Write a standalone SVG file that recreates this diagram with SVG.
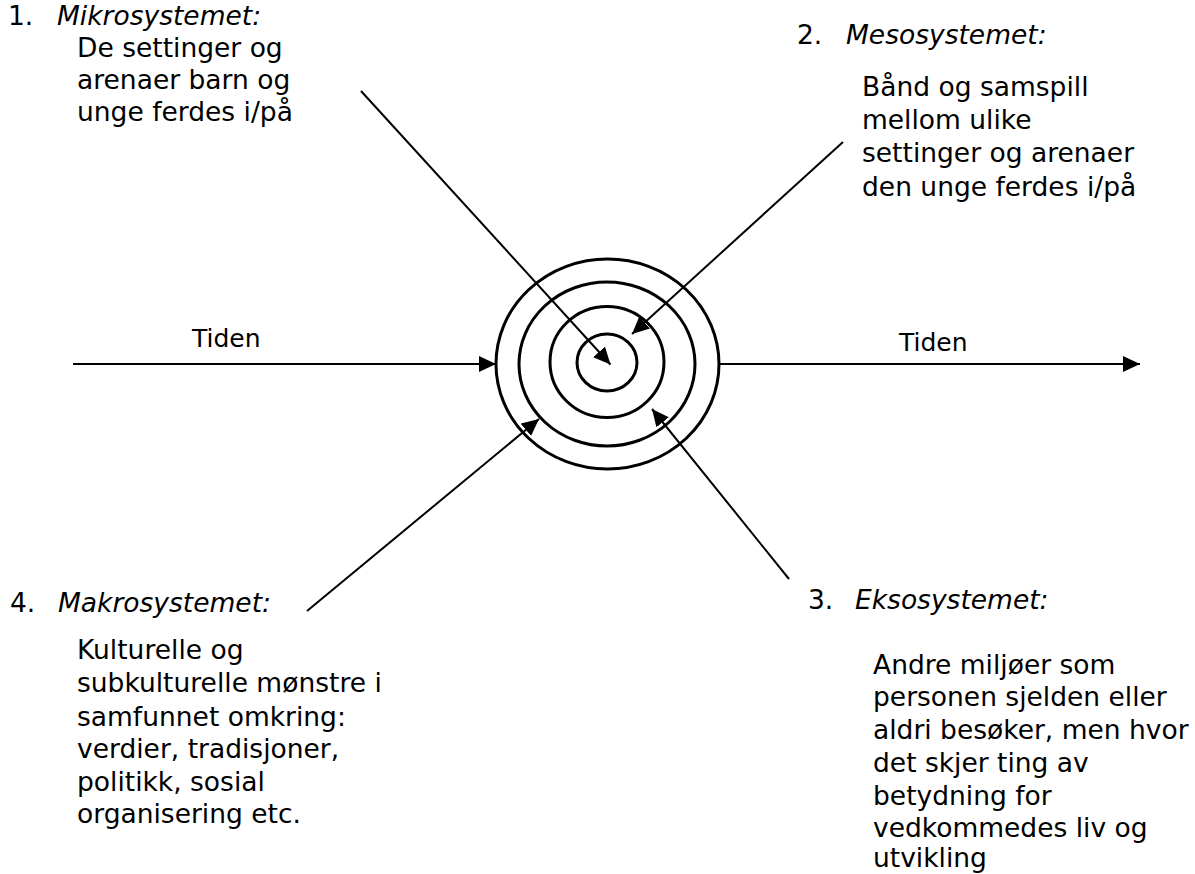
<svg xmlns="http://www.w3.org/2000/svg" width="1195" height="874" viewBox="0 0 1195 874">
<style>
  text { font-family: "DejaVu Sans", Verdana, sans-serif; font-size: 26.5px; fill: #000; }
  .it { font-style: italic; }
  .tid { font-size: 25px; }
  .ring { fill: none; stroke: #000; stroke-width: 3; }
  .conn { stroke: #000; stroke-width: 2; fill: none; marker-end: url(#ah); }
</style>
<defs>
  <marker id="ah" markerUnits="userSpaceOnUse" markerWidth="20" markerHeight="18" refX="17" refY="8" orient="auto">
    <path d="M0,0 L17,8 L0,16 Z" fill="#000"/>
  </marker>
</defs>
<rect width="1195" height="874" fill="#fff"/>
<g id="center">
  <ellipse class="ring" cx="607.5" cy="364" rx="111.5" ry="105"/>
  <ellipse class="ring" cx="607" cy="364" rx="88" ry="82"/>
  <ellipse class="ring" cx="607" cy="362" rx="57" ry="55.5"/>
  <ellipse class="ring" cx="607" cy="362.5" rx="30" ry="28.5"/>
</g>
<g id="connectors">
  <line class="conn" x1="73" y1="364" x2="496" y2="364"/>
  <line class="conn" x1="719" y1="364" x2="1140" y2="364"/>
  <line class="conn" x1="361" y1="91" x2="610.5" y2="364.5"/>
  <line class="conn" x1="843" y1="142" x2="632" y2="334"/>
  <line class="conn" x1="789" y1="579" x2="652" y2="409"/>
  <line class="conn" x1="307" y1="611" x2="539" y2="419"/>
</g>
<g id="tiden-left"><text class="tid" x="192" y="347">Tiden</text></g>
<g id="tiden-right"><text class="tid" x="899" y="351">Tiden</text></g>
<g id="mikro">
  <text x="8" y="25">1.</text>
  <text class="it" x="57" y="25">Mikrosystemet:</text>
  <text x="77" y="57">De settinger og</text>
  <text x="77" y="89">arenaer barn og</text>
  <text x="77" y="121">unge ferdes i/på</text>
</g>
<g id="meso">
  <text x="797" y="44">2.</text>
  <text class="it" x="846" y="44">Mesosystemet:</text>
  <text x="862" y="96">Bånd og samspill</text>
  <text x="862" y="129">mellom ulike</text>
  <text x="862" y="162">settinger og arenaer</text>
  <text x="862" y="196">den unge ferdes i/på</text>
</g>
<g id="ekso">
  <text x="808" y="609">3.</text>
  <text class="it" x="855" y="609">Eksosystemet:</text>
  <text x="873" y="674">Andre miljøer som</text>
  <text x="873" y="706">personen sjelden eller</text>
  <text x="873" y="739">aldri besøker, men hvor</text>
  <text x="873" y="772">det skjer ting av</text>
  <text x="873" y="805">betydning for</text>
  <text x="873" y="837">vedkommedes liv og</text>
  <text x="873" y="867">utvikling</text>
</g>
<g id="makro">
  <text x="10" y="612">4.</text>
  <text class="it" x="58" y="612">Makrosystemet:</text>
  <text x="77" y="659">Kulturelle og</text>
  <text x="77" y="692">subkulturelle mønstre i</text>
  <text x="77" y="726">samfunnet omkring:</text>
  <text x="77" y="758">verdier, tradisjoner,</text>
  <text x="77" y="791">politikk, sosial</text>
  <text x="77" y="823">organisering etc.</text>
</g>
</svg>
